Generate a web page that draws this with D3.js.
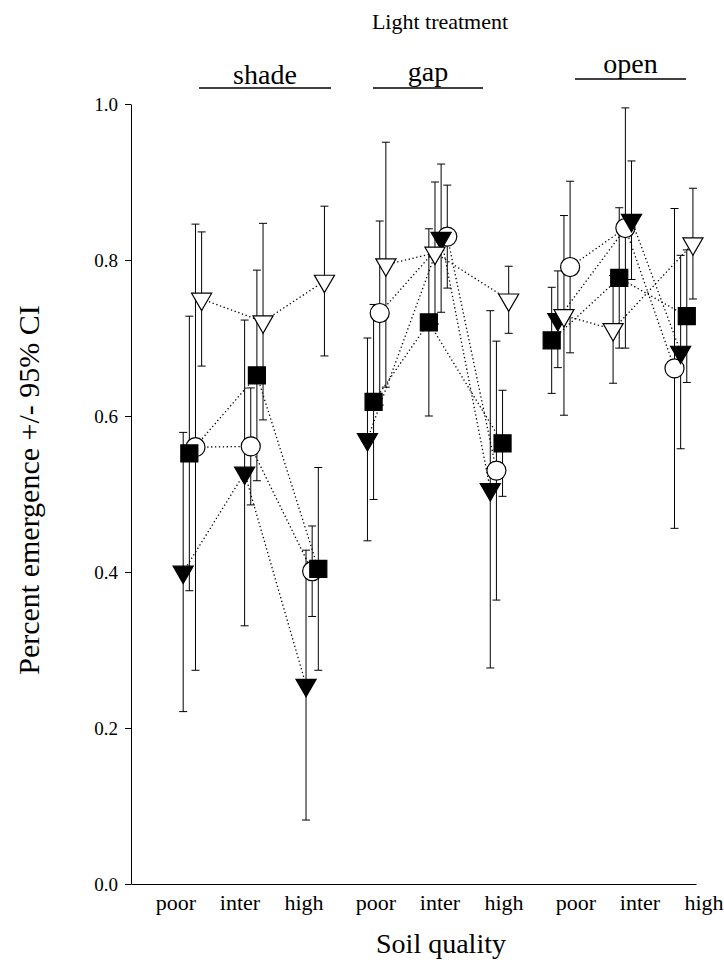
<!DOCTYPE html>
<html>
<head>
<meta charset="utf-8">
<script src="https://cdn.jsdelivr.net/npm/d3@7"></script>
<style>
  body { margin: 0; background: #fff; }
  svg text { font-family: "Liberation Serif", "Times New Roman", serif; fill: #000; }
</style>
</head>
<body>
<svg id="chart" width="724" height="967"></svg>
<script>
// light treatments and soil levels (x order: shade poor..high, gap poor..high, open poor..high)
const lights = ['shade', 'gap', 'open'];
const soils = ['poor', 'inter', 'high'];
const yTicks = [0, 0.2, 0.4, 0.6, 0.8, 1.0];

// means and half-width of 95% CI, 9 values each in the order above
const filledTriMean = [0.400, 0.527, 0.255, 0.570, 0.828, 0.506, 0.724, 0.851, 0.682];
const filledTriCI   = [0.179, 0.196, 0.173, 0.130, 0.095, 0.229, 0.062, 0.076, 0.124];
const squareMean    = [0.552, 0.652, 0.404, 0.618, 0.720, 0.565, 0.697, 0.777, 0.728];
const squareCI      = [0.176, 0.135, 0.130, 0.125, 0.120, 0.068, 0.068, 0.090, 0.085];
const circleMean    = [0.560, 0.561, 0.401, 0.732, 0.830, 0.530, 0.791, 0.841, 0.661];
const circleCI      = [0.286, 0.075, 0.058, 0.118, 0.066, 0.166, 0.110, 0.154, 0.205];
const openTriMean   = [0.750, 0.721, 0.773, 0.794, 0.809, 0.749, 0.729, 0.711, 0.821];
const openTriCI     = [0.086, 0.126, 0.096, 0.157, 0.091, 0.043, 0.128, 0.069, 0.071];

const series = [
    { name: 'circle', mean: circleMean, ci: circleCI, shape: d3.symbolCircle, size: 285, fill: '#fff', rot: 0 },
    { name: 'square', mean: squareMean, ci: squareCI, shape: d3.symbolSquare, size: 290, fill: '#000', rot: 0 },
    { name: 'filledTri', mean: filledTriMean, ci: filledTriCI, shape: d3.symbolTriangle, size: 175, fill: '#000', rot: 180 },
    { name: 'openTri', mean: openTriMean, ci: openTriCI, shape: d3.symbolTriangle, size: 175, fill: '#fff', rot: 180 }
];

const svg = d3.select('#chart');

const x = d3.scaleLinear().domain([0, 9.2]).range([131, 696]);
const y = d3.scaleLinear().domain([0, 1]).range([884, 104]);

// points within each cell are spread 0.1 apart, ordered by their mean
const points = [];
for (let i = 0; i < 9; i++) {
    const ranked = series.slice().sort((a, b) => a.mean[i] - b.mean[i]);
    series.forEach(s => {
        const rank = ranked.indexOf(s);
        points.push({
            s: s, cell: i, light: Math.floor(i / 3),
            x: i + 1 + (rank - 1.5) * 0.1,
            mean: s.mean[i], lo: s.mean[i] - s.ci[i], hi: s.mean[i] + s.ci[i]
        });
    });
}

// axes
svg.append('g')
    .attr('transform', `translate(${x(0)},0)`)
    .call(d3.axisLeft(y).tickValues(yTicks).tickFormat(d3.format('.1f')).tickSize(6).tickSizeOuter(0).tickPadding(7))
    .attr('font-family', '"Liberation Serif", serif')
    .attr('font-size', 19)
    .call(g => g.selectAll('line, path').attr('stroke', '#000'));

svg.append('g')
    .attr('transform', `translate(0,${y(0)})`)
    .call(d3.axisBottom(x).tickValues([]).tickSizeOuter(0))
    .call(g => g.select('path').attr('stroke', '#000'));

// error bars
const bars = svg.append('g').attr('stroke', '#000').attr('stroke-width', 1);
points.forEach(p => {
    const px = x(p.x);
    bars.append('line').attr('x1', px).attr('x2', px).attr('y1', y(p.lo)).attr('y2', y(p.hi));
    bars.append('line').attr('x1', px - 4).attr('x2', px + 4).attr('y1', y(p.lo)).attr('y2', y(p.lo));
    bars.append('line').attr('x1', px - 4).attr('x2', px + 4).attr('y1', y(p.hi)).attr('y2', y(p.hi));
});

// dotted lines joining soil levels inside each light treatment
const line = d3.line().x(d => x(d.x)).y(d => y(d.mean));
series.forEach(s => {
    lights.forEach((l, li) => {
        const pts = points.filter(p => p.s === s && p.light === li);
        svg.append('path')
            .attr('d', line(pts))
            .attr('fill', 'none')
            .attr('stroke', '#000')
            .attr('stroke-width', 1.3)
            .attr('stroke-dasharray', '1.3,2.6');
    });
});

// markers
series.forEach(s => {
    svg.append('g').selectAll('path')
        .data(points.filter(p => p.s === s))
        .join('path')
            .attr('d', d3.symbol().type(s.shape).size(s.size))
            .attr('transform', d => `translate(${x(d.x)},${y(d.mean)}) rotate(${s.rot})`)
            .attr('fill', s.fill)
            .attr('stroke', '#000')
            .attr('stroke-width', 1.2);
});

// soil labels under the axis
const groupPos = d3.scalePoint().domain(lights).range([240, 640]);
const soilPos = d3.scalePoint().domain(soils).range([-64, 64]);
lights.forEach(l => {
    soils.forEach(s => {
        svg.append('text')
            .attr('x', groupPos(l) + soilPos(s))
            .attr('y', 910)
            .attr('text-anchor', 'middle')
            .style('font-size', '22px')
            .text(s);
    });
});

// light treatment headers
const headers = [
    { label: 'shade', x1: 199, x2: 331, base: 84, rule: 88 },
    { label: 'gap', x1: 373, x2: 483, base: 81, rule: 88 },
    { label: 'open', x1: 575, x2: 686, base: 73, rule: 79 }
];
headers.forEach(h => {
    svg.append('text')
        .attr('x', (h.x1 + h.x2) / 2)
        .attr('y', h.base)
        .attr('text-anchor', 'middle')
        .style('font-size', '28px')
        .text(h.label);
    svg.append('line')
        .attr('x1', h.x1).attr('x2', h.x2)
        .attr('y1', h.rule).attr('y2', h.rule)
        .attr('stroke', '#000').attr('stroke-width', 1.5);
});

svg.append('text')
    .attr('x', 440).attr('y', 29)
    .attr('text-anchor', 'middle')
    .style('font-size', '22px')
    .text('Light treatment');

svg.append('text')
    .attr('x', 441).attr('y', 953)
    .attr('text-anchor', 'middle')
    .style('font-size', '28px')
    .text('Soil quality');

svg.append('text')
    .attr('transform', 'translate(39,490) rotate(-90)')
    .attr('text-anchor', 'middle')
    .style('font-size', '30px')
    .text('Percent emergence +/- 95% CI');
</script>
</body>
</html>
